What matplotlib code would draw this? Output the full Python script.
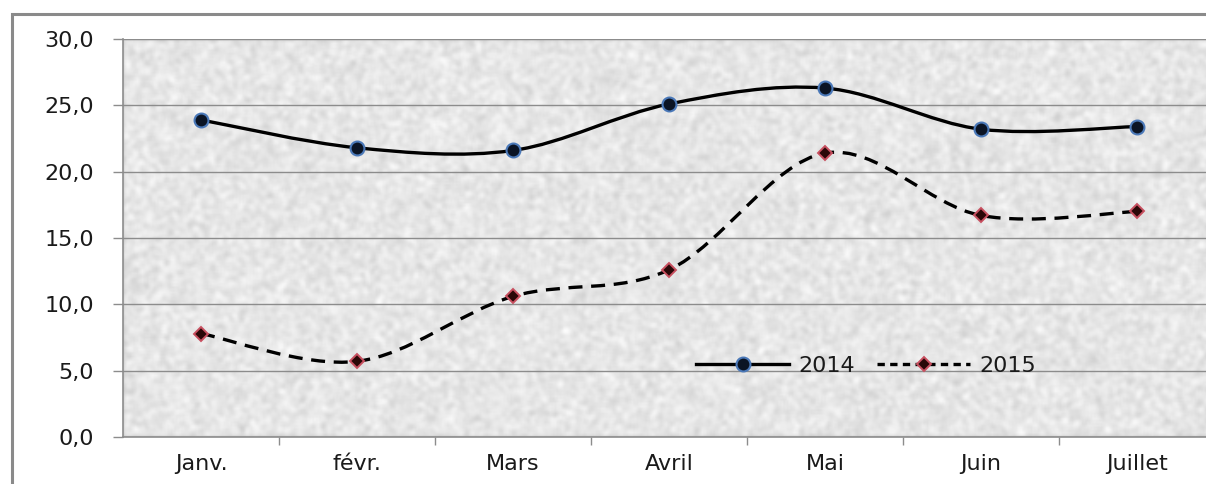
import numpy as np
import matplotlib
matplotlib.use("Agg")
import matplotlib.pyplot as plt
from matplotlib.path import Path
from matplotlib.patches import PathPatch, Rectangle
from matplotlib.lines import Line2D

months = ["Janv.", "févr.", "Mars", "Avril", "Mai", "Juin", "Juillet"]
values_2014 = [23.9, 21.8, 21.6, 25.1, 26.3, 23.2, 23.4]
values_2015 = [7.8, 5.7, 10.6, 12.6, 21.4, 16.7, 17.0]
y_ticks = [0, 5, 10, 15, 20, 25, 30]
y_tick_labels = ["0,0", "5,0", "10,0", "15,0", "20,0", "25,0", "30,0"]

plt.rcParams["font.family"] = ["DejaVu Sans"]

W, H = 1206, 484
fig = plt.figure(figsize=(W / 100, H / 100), dpi=100)
fig.patch.set_facecolor("white")

# outer chart frame (runs off the right and bottom edges)
fig.patches.append(Rectangle((12 / W, -0.1), 1.2, (H - 14) / H + 0.1,
                             transform=fig.transFigure, fill=False,
                             edgecolor="#8a8a8a", linewidth=2.2, zorder=0))

ax = fig.add_axes([123 / W, 47 / H, 1092 / W, 398 / H])

x = np.arange(len(months))
ax.set_xlim(-0.5, len(months) - 0.5)
ax.set_ylim(0, 30)

# speckled stone-like fill of the plot area
rng = np.random.default_rng(7)
tex = rng.random((230, 640))
k = np.ones(3) / 3
for _ in range(2):
    tex = np.apply_along_axis(lambda r: np.convolve(r, k, mode="same"), 1, tex)
    tex = np.apply_along_axis(lambda c: np.convolve(c, k, mode="same"), 0, tex)
tex = (tex - tex.min()) / (tex.max() - tex.min())
ax.imshow(tex, cmap="gray", vmin=-3.6, vmax=1.05, extent=(-0.5, 6.5, 0, 30),
          aspect="auto", interpolation="bilinear", zorder=0)


def smooth_path(xs, ys):
    pts = np.column_stack([xs, ys]).astype(float)
    verts = [pts[0]]
    codes = [Path.MOVETO]
    n = len(pts)
    for i in range(n - 1):
        p0 = pts[max(i - 1, 0)]
        p1 = pts[i]
        p2 = pts[i + 1]
        p3 = pts[min(i + 2, n - 1)]
        c1 = p1 + (p2 - p0) / 6.0
        c2 = p2 - (p3 - p1) / 6.0
        verts += [c1, c2, p2]
        codes += [Path.CURVE4] * 3
    return Path(verts, codes)


ax.add_patch(PathPatch(smooth_path(x, values_2014), fill=False,
                       edgecolor="black", linewidth=2.4, zorder=3,
                       capstyle="butt"))
ax.add_patch(PathPatch(smooth_path(x, values_2015), fill=False,
                       edgecolor="black", linewidth=2.4, zorder=3,
                       linestyle=(0, (4.2, 2.6)), capstyle="butt"))

ax.plot(x, values_2014, linestyle="none", marker="o", markersize=10,
        markerfacecolor="#0b1424", markeredgecolor="#4a78b8",
        markeredgewidth=1.5, zorder=4)
ax.plot(x, values_2015, linestyle="none", marker="D", markersize=7.5,
        markerfacecolor="#2a0808", markeredgecolor="#c85060",
        markeredgewidth=1.4, zorder=4)

# grid and axes
ax.set_yticks(y_ticks)
ax.set_yticklabels(y_tick_labels)
ax.yaxis.grid(True, color="#8c8c8c", linewidth=1.0)
ax.set_axisbelow("line")
ax.set_xticks(x)
ax.set_xticklabels(months)
ax.set_xticks(np.arange(0.5, len(months) - 0.5, 1.0), minor=True)
ax.tick_params(axis="x", which="major", length=0, pad=12,
               labelsize=16, labelcolor="#1a1a1a")
ax.tick_params(axis="x", which="minor", length=6, width=1.0, color="#8c8c8c")
ax.tick_params(axis="y", which="major", length=7, width=1.0, color="#8c8c8c",
               pad=14, labelsize=16, labelcolor="#1a1a1a")
for side in ("top", "right"):
    ax.spines[side].set_visible(False)
for side in ("left", "bottom"):
    ax.spines[side].set_color("#8c8c8c")
    ax.spines[side].set_linewidth(1.2)

handles = [
    Line2D([], [], color="black", linewidth=2.4, marker="o", markersize=10,
           markerfacecolor="#0b1424", markeredgecolor="#4a78b8",
           markeredgewidth=1.5),
    Line2D([], [], color="black", linewidth=2.4, linestyle=(0, (2.2, 1.6)),
           marker="D", markersize=7.5, markerfacecolor="#2a0808",
           markeredgecolor="#c85060", markeredgewidth=1.4),
]
ax.legend(handles, ["2014", "2015"], loc="center",
          bbox_to_anchor=(866 / W, (H - 366) / H),
          bbox_transform=fig.transFigure,
          ncol=2, frameon=False, fontsize=16, handlelength=4.2,
          handletextpad=0.4, columnspacing=1.0, labelcolor="#1a1a1a")

fig.savefig("out.png", dpi=100)
